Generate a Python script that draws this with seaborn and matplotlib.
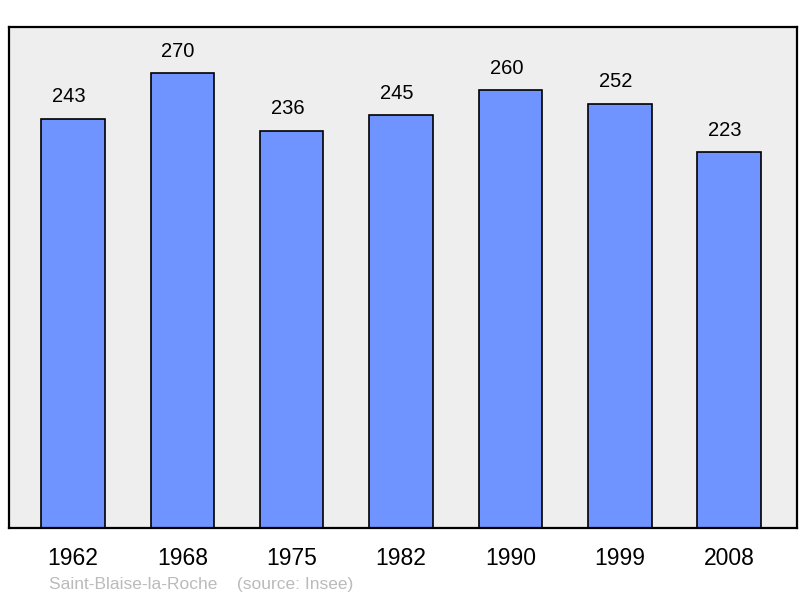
import matplotlib
matplotlib.use("Agg")
import matplotlib.pyplot as plt
import seaborn as sns
import pandas as pd

years = ["1962", "1968", "1975", "1982", "1990", "1999", "2008"]
population = [243, 270, 236, 245, 260, 252, 223]
source_text = "Saint-Blaise-la-Roche    (source: Insee)"

sns.set_theme(style="white")
plt.rcParams["font.family"] = ["Liberation Sans", "DejaVu Sans"]

df = pd.DataFrame({"year": years, "pop": population})

fig = plt.figure(figsize=(8.0, 5.98), dpi=100)
ax = fig.add_axes([9 / 800, 1 - 528 / 598, 788 / 800, 501 / 598])
ax.set_facecolor("#EEEEEE")

sns.barplot(data=df, x="year", y="pop", ax=ax, color="#7094FF", saturation=1,
            width=0.58, edgecolor="black", linewidth=1.2)

ax.set_ylim(0, 297.5)
ax.set_xlim(-0.585, 6.62)
ax.set_xlabel("")
ax.set_ylabel("")
ax.set_yticks([])
ax.tick_params(axis="x", length=0, labelsize=16.5, pad=14, colors="black")
for s in ax.spines.values():
    s.set_visible(True)
    s.set_color("black")
    s.set_linewidth(1.6)

for i, v in enumerate(population):
    ax.annotate(str(v), (i, v), xytext=(-3, 9), textcoords="offset points",
                ha="center", va="bottom", fontsize=14.5, color="black")

fig.text(49 / 800, 1 - 584 / 598, source_text, fontsize=12.5, color="#BBBBBB",
         ha="left", va="center")

fig.savefig("out.png", dpi=100)
